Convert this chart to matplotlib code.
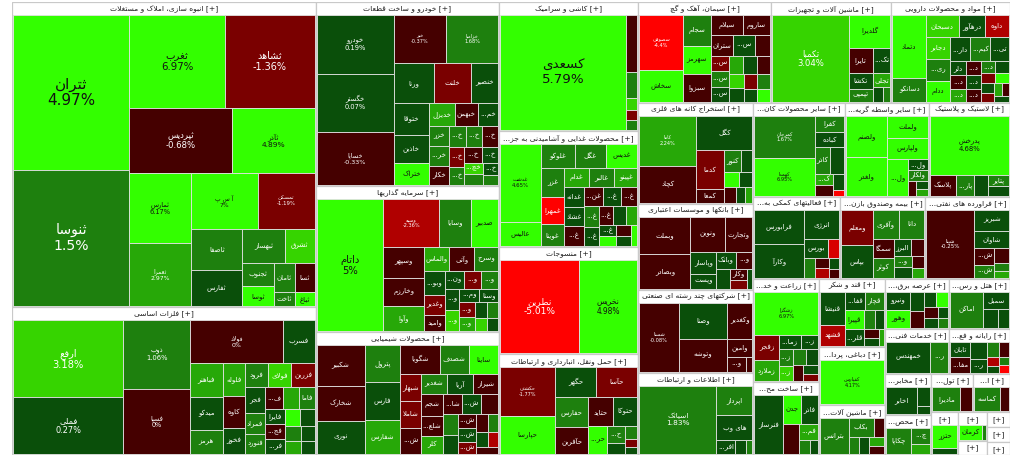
"""
Tehran stock exchange market map: sectors as a squarified treemap,
each sector has a header strip and tiles coloured by daily change.
"""

import numpy as np
import matplotlib
matplotlib.use("Agg")
import matplotlib.pyplot as plt
from matplotlib.patches import Rectangle
from matplotlib.font_manager import FontProperties
from matplotlib.textpath import TextToPath

# ---------------------------------------------------------------- data
sector_names = [
    "انبوه سازی، املاک و مستغلات", "فلزات اساسی", "خودرو و ساخت قطعات",
    "سرمایه گذاریها", "محصولات شیمیایی", "کاشی و سرامیک",
    "محصولات غذایی و آشامیدنی به جز قند و شکر", "منسوجات",
    "حمل ونقل، انبارداری و ارتباطات", "سیمان، آهک و گچ",
    "استخراج کانه های فلزی", "بانکها و موسسات اعتباری",
    "شرکتهای چند رشته ای صنعتی", "اطلاعات و ارتباطات",
    "ماشین آلات و تجهیزات", "مواد و محصولات دارویی",
    "سایر محصولات کانی غیرفلزی", "سایر واسطه گریهای مالی",
    "لاستیک و پلاستیک", "فعالیتهای کمکی به نهادهای مالی واسط",
    "بیمه وصندوق بازنشستگی به جزتامین اجتماعی",
    "فراورده های نفتی، کک و سوخت هسته ای", "زراعت و خدمات وابسته",
    "ساخت محصولات فلزی", "قند و شکر",
    "دباغی، پرداخت چرم و ساخت انواع پاپوش",
    "ماشین آلات و دستگاههای برقی", "عرضه برق، گاز، بخاروآب گرم",
    "هتل و رستوران", "خدمات فنی و مهندسی",
    "رایانه و فعالیتهای وابسته به آن", "مخابرات",
    "تولید محصولات کامپیوتری الکترونیکی و نوری", "استخراج سایر معادن",
    "محصولات کاغذی", "محصولات چوبی", "انتشار، چاپ و تکثیر",
    "استخراج نفت گاز و خدمات جنبی جز اکتشاف", "اوراق تامین مالی",
    "استخراج زغال سنگ", "سایر",
]

# sector market value (relative)
sector_sizes = [92.4, 44.8, 33.7, 26.7, 22.5, 17.9, 16.1, 14.9, 14.0, 13.3,
                11.6, 9.9, 9.5, 9.45, 12.1, 11.9, 8.6, 7.9, 7.6, 7.1,
                6.95, 6.9, 6.8, 4.8, 4.5, 3.77, 3.28, 3.2, 3.05, 2.9,
                2.75, 1.9, 1.6, 1.4, 1.85, 1.15, 0.8, 0.4, 0.35, 0.35, 0.3]

# (symbol, market value, change %)
t_maskan = [("ثتران", 18135, 4.97), ("ثنوسا", 15912, 1.5), ("ثغرب", 8928, 6.97),
            ("ثشاهد", 8370, -1.36), ("ثپردیس", 6695, -0.68), ("ثآذر", 5395, 4.89),
            ("ثمارس", 4392, 6.17), ("ثعمرا", 3900, 2.97), ("آ س پ", 3800, 7.0),
            ("ثمسکن", 3249, -1.19), ("ثاصفا", 2080, 1.2), ("ثفارس", 1872, 0.3),
            ("ثبهساز", 1419, 1.8), ("ثشرق", 990, 3.2), ("ثجنوب", 768, 1.3),
            ("ثوسا", 630, 4.2), ("ثامان", 608, 1.4), ("ثسا", 600, -0.8),
            ("ثاخت", 280, 1.5), ("ثباغ", 270, 4.5)]
t_felezat = [("ارفع", 8208, 3.18), ("فملی", 6048, 0.27), ("ذوب", 4420, 1.06),
             ("فسپا", 4160, 0.0), ("فولاد", 3888, 0.0), ("فسرب", 1296, 0.3),
             ("فباهنر", 1056, 2.4), ("میدکو", 1050, 0.3), ("هرمز", 750, 1.4),
             ("فلوله", 720, 2.6), ("کاوه", 700, -0.5), ("فخوز", 560, 0.4),
             ("فرود", 540, 1.6), ("فولای", 540, 3.2), ("فزرین", 540, -1.6),
             ("فجر", 500, 0.3), ("فمراد", 400, 1.2), ("فنورد", 380, 1.1),
             ("فسازان", 360, -0.6), ("فروی", 340, 2.4), ("فاما", 320, 1.3),
             ("فایرا", 300, 0.4), ("فجهان", 290, -0.5), ("فروس", 280, 0.3),
             ("فکمند", 260, 4.5), ("فالوم", 240, 0.2), ("فسوژ", 220, 1.2),
             ("فنوال", 200, 2.6), ("فاراک", 190, 0.3), ("فافزا", 180, 0.2)]
t_khodro = [("خودرو", 4500, 0.19), ("خگستر", 4450, 0.07), ("خساپا", 4104, -0.33),
            ("خبر", 2491, -0.37), ("خزامیا", 2491, 1.68), ("ورنا", 1600, 0.3),
            ("خلنت", 1482, -1.5), ("خنصیر", 1100, 0.3), ("ختوقا", 1088, 0.3),
            ("خاذین", 986, 0.4), ("ختراک", 782, 4.5), ("خدیزل", 567, 2.6),
            ("خبهمن", 504, -0.5), ("خمحرکه", 441, 0.3), ("خزر", 400, 1.5),
            ("خریخت", 390, 1.4), ("خکار", 380, -0.5), ("خموتور", 370, 1.2),
            ("خفنر", 360, 1.3), ("خاور", 340, -0.6), ("خکمک", 300, -1.5),
            ("خمهر", 280, 0.8), ("خرینگ", 260, -0.5), ("خپویش", 250, 0.3),
            ("خچرخش", 220, 3.0), ("خفولا", 200, 1.0), ("خشرق", 180, 0.3),
            ("خعمرا", 160, 1.5)]
t_sarmaye = [("داتام", 8976, 5.0), ("وسپه", 2688, -2.36), ("وسایا", 1536, 1.2),
             ("صدبیر", 1310, 4.5), ("وسپهر", 1305, -0.5), ("وخارزم", 1131, -0.5),
             ("وآوا", 1053, 2.0), ("والماس", 621, 2.8), ("وآتی", 621, -0.6),
             ("وسرج", 594, 1.5), ("وبوعلی", 513, 0.3), ("وغدیر", 432, -1.2),
             ("وامید", 340, -0.6), ("ونیکی", 340, 0.3), ("وصنعت", 324, -1.5),
             ("وبهمن", 306, 1.5), ("وتوکا", 306, 0.3), ("ورازی", 300, 3.5),
             ("ومعادن", 280, 0.3), ("وسنا", 260, 0.4), ("وکبهمن", 240, -1.2),
             ("وپویا", 220, 2.5), ("وساخت", 200, 0.3), ("وسکاب", 180, 1.5),
             ("وسبحان", 160, 3.5), ("وگستر", 150, 0.4)]
t_shimi = [("شکبیر", 1886, -0.5), ("شخارک", 1564, -0.6), ("نوری", 1518, 0.3),
           ("پترول", 1258, 1.2), ("فارس", 1258, 0.3), ("شفارس", 1156, 2.0),
           ("شگویا", 1066, -0.5), ("شصدف", 806, 1.2), ("ساینا", 780, 4.5),
           ("شبهار", 540, -1.5), ("شاملا", 530, -1.5), ("شپدیس", 520, -0.5),
           ("شغدیر", 520, 1.5), ("آریا", 500, 0.3), ("شیراز", 500, -0.5),
           ("شجم", 450, -0.6), ("شلعاب", 400, -0.5), ("کلر", 380, 2.4),
           ("شاراک", 360, -0.5), ("شپلی", 340, 0.3), ("شاروم", 320, -0.6),
           ("شنوا", 300, 1.2), ("شزنگ", 280, 0.3), ("شدوص", 260, -0.5),
           ("شسینا", 240, 0.3), ("شرنگی", 220, -1.5), ("شوینده", 200, -0.5),
           ("شکف", 180, 1.3), ("شملی", 160, 0.3), ("شتوکا", 150, -2.5),
           ("شپاس", 140, -0.5)]
t_kashi = [("کسعدی", 14720, 5.79), ("کساوه", 627, -0.6), ("کسرام", 286, 1.2),
           ("کمینا", 132, 3.5), ("کخاک", 110, -1.5), ("کپارس", 110, 0.8)]
t_ghaza = [("غدشت", 2926, 4.65), ("عالیس", 912, 4.2), ("غلوکو", 756, 1.3),
           ("غگل", 700, 1.4), ("غدیس", 700, 4.1), ("غزر", 616, 1.3),
           ("غمهرا", 600, -4.5), ("غویتا", 462, 1.8), ("غدام", 440, 2.2),
           ("غالبر", 440, 1.9), ("غپینو", 400, 2.3), ("غدانه", 374, 0.3),
           ("غشاذ", 360, 0.3), ("غصینو", 360, -0.5), ("غنوش", 340, -0.6),
           ("غکورش", 330, 0.4), ("غبشهر", 300, -0.6), ("غپاک", 280, 1.4),
           ("غمینو", 260, 0.3), ("غشان", 240, -0.5), ("غفارس", 220, 0.3),
           ("غنیلی", 200, 2.5), ("غسالم", 180, 0.4), ("غبهار", 160, 4.5),
           ("غشصفا", 150, -0.5), ("غاذر", 140, 0.3), ("غچین", 130, 4.5)]
t_nasaji = [("نطرین", 7440, -5.01), ("نخریس", 5487, 4.98)]
t_haml = [("حکشتی", 2695, -1.77), ("حپارسا", 2145, 4.55), ("حگهر", 1271, 0.3),
          ("حآسا", 1271, -1.2), ("حفارس", 1020, 1.4), ("حآفرین", 918, -0.6),
          ("حتاید", 720, -0.6), ("حتوکا", 720, 0.3), ("حریل", 513, 4.3),
          ("حسینا", 324, 1.3), ("حبندر", 200, 0.3), ("حسیر", 150, 1.2),
          ("حاریا", 100, -1.5), ("حخزر", 90, 0.3)]
t_siman = [("سصوفی", 2376, -4.4), ("سخاش", 1364, 4.3), ("سجام", 840, 1.5),
           ("سهرمز", 784, 4.4), ("سبزوا", 756, -0.6), ("سیلام", 640, -0.6),
           ("ساروم", 540, -0.5), ("ستران", 462, -0.6), ("سشرق", 441, 0.3),
           ("سفارس", 300, -0.6), ("سکرما", 290, -1.5), ("سغرب", 280, 1.3),
           ("سدشت", 270, 0.4), ("سفار", 260, 2.6), ("سخزر", 250, 0.3),
           ("سبجنو", 240, -0.5), ("سکارون", 220, 3.5), ("سمازن", 200, 0.3),
           ("سخوز", 190, -1.5), ("ساذری", 180, 1.4), ("سدور", 170, 0.3),
           ("سقاین", 160, 4.2)]
t_kaneh = [("کاما", 3000, 2.24), ("کچاد", 2220, -0.5), ("کگل", 2035, 0.3),
           ("کدما", 1102, -1.5), ("کمعا", 400, -0.6), ("کنور", 390, 1.4),
           ("کروی", 252, 0.3), ("کسرا", 238, 4.3), ("کزغال", 216, 0.4),
           ("کپرور", 200, -0.5), ("کمنگنز", 150, 0.3), ("کطبس", 120, 2.5)]
t_bank = [("وبملت", 1998, -0.5), ("وبصادر", 1836, -0.5), ("ونوین", 1258, -0.6),
          ("وتجارت", 999, -0.5), ("وپاسار", 588, 0.3), ("وپست", 400, 0.3),
          ("وبانک", 350, 0.4), ("وخاور", 300, -0.6), ("وسینا", 280, 0.3),
          ("وکار", 200, -0.5), ("وشهر", 150, -1.5), ("وحکمت", 120, 0.3)]
t_chand = [("شستا", 2760, -0.08), ("وصنا", 1764, 0.3), ("وتوشه", 1617, -0.5),
           ("وکغدیر", 936, -0.5), ("وامین", 468, -0.6), ("وپخش", 285, -0.5),
           ("وتوس", 105, -0.6)]
t_ertebat = [("اسیاتک", 5508, 1.83), ("اپرداز", 1088, 1.4), ("های وب", 952, 0.3),
             ("افرانت", 272, 0.3), ("اعتلا", 150, 0.4), ("انتشار", 100, 1.2)]
t_mashin = [("تکمبا", 6630, 3.04), ("گلدیرا", 1344, 4.2), ("تایرا", 600, -0.6),
            ("تکنول", 450, 0.3), ("تکشا", 384, 0.3), ("تپمپی", 288, 1.5),
            ("تجلی", 250, 2.5), ("تمحرکه", 150, 0.3), ("تفیرو", 104, 1.3)]
t_daru = [("دتماد", 1984, 4.5), ("دسانکو", 736, 1.5), ("دسبحان", 680, 3.2),
          ("درهآور", 540, 0.3), ("داوه", 500, -2.5), ("دجابر", 484, 3.3),
          ("ریشمک", 484, 1.3), ("ددام", 462, 4.4), ("داروپخش", 462, 0.3),
          ("کیمیدارو", 462, 1.5), ("تیپیکو", 420, 0.3), ("دلر", 224, 0.3),
          ("دفارا", 210, -0.6), ("دکپسول", 200, 2.5), ("دزهراوی", 190, -0.5),
          ("دشیمی", 180, 0.3), ("دعبید", 170, -0.6), ("دلقما", 160, 1.4),
          ("دکیمی", 150, 0.3), ("دپارس", 140, -1.5), ("دتولید", 130, 4.5),
          ("دابور", 120, 0.3), ("دسینا", 110, -1.5), ("دامین", 100, 2.5),
          ("دالبر", 90, -0.6), ("داسوه", 80, 0.3)]
t_kani = [("کمرجان", 2646, 1.67), ("کهمدا", 2394, 6.95), ("کفرا", 510, 1.5),
          ("کباده", 450, 0.3), ("کاذر", 425, 1.4), ("کلوند", 375, 0.3),
          ("کساپا", 221, 2.0), ("کرازی", 204, -0.6), ("کگاز", 180, 0.3),
          ("کصدف", 60, -4.5)]
t_vasete = [("ولصنم", 1764, 4.4), ("ولغدر", 1638, 4.3), ("ولملت", 920, 4.6),
            ("ولپارس", 880, 4.5), ("ولساپا", 792, 4.2), ("ولتجار", 234, 0.3),
            ("ولکار", 234, 1.5), ("ولبهمن", 120, -0.6), ("ولشرق", 100, 0.3),
            ("ولانا", 80, 2.0)]
t_lastik = [("پدرخش", 4860, 4.68), ("پلاسک", 560, -0.5), ("پارس", 400, 1.5),
            ("پکرمان", 300, 0.3), ("پتایر", 250, 1.4), ("پسهند", 200, 0.3)]
t_komaki = [("فرابورس", 1850, 0.3), ("وکارآ", 1800, 0.3), ("انرژی", 1122, 0.4),
            ("بورس", 510, 0.3), ("اطلس", 228, -3.5), ("آگاه", 228, 1.4),
            ("کارا", 150, -0.6), ("وثوق", 140, -2.5), ("سپید", 120, 0.3),
            ("مفید", 100, -0.6)]
t_bime = [("ومعلم", 1080, -1.2), ("بپاس", 1000, 0.3), ("وآفری", 756, 1.6),
          ("دانا", 729, 1.5), ("سمگا", 400, -0.6), ("کوثر", 400, 1.4),
          ("البرز", 300, 0.3), ("آسیا", 225, -0.6), ("وتعاون", 200, 1.5),
          ("ملت", 180, 0.3), ("حافظ", 150, -0.5), ("اتکای", 120, 2.2)]
t_naft = [("شپنا", 3283, -0.25), ("شبریز", 735, 0.3), ("شاوان", 595, 0.3),
          ("شبندر", 340, -0.6), ("شتران", 255, 1.4), ("شنفت", 216, -0.6),
          ("شرانل", 120, 1.4), ("شسپا", 100, 2.5)]
t_zeraat = [("زشگزا", 2970, 6.97), ("زفجر", 650, -1.5), ("زملارد", 550, 2.3),
            ("زماهان", 336, 0.3), ("زکوثر", 273, 0.3), ("زپارس", 252, 1.5),
            ("زگلدشت", 230, 3.5), ("زبینا", 220, 1.4), ("زقیام", 200, 0.3),
            ("زشریف", 180, -0.6), ("زمگسا", 150, 0.3), ("زدشت", 120, -1.2)]
t_felezi = [("فنرساز", 1596, 0.3), ("جدن", 500, 4.3), ("فاذر", 480, 0.3),
            ("فجام", 460, -0.6), ("فمیلی", 300, 2.0), ("فتوسا", 150, 1.4),
            ("فپنتا", 120, 0.3)]
t_ghand = [("قنیشا", 850, 0.3), ("قشهد", 550, -2.5), ("قفارس", 400, 0.3),
           ("قچار", 378, 1.5), ("قپیرا", 378, 4.3), ("قلرست", 361, 0.3),
           ("قثابت", 200, 1.4), ("قاسم", 180, 0.3), ("قمرو", 150, -0.6),
           ("قشیر", 120, 0.3), ("قزوین", 100, 2.5)]
t_charm = [("کفپارس", 2925, 4.17)]
t_barghi = [("بترانس", 1036, 1.4), ("بکاب", 500, 1.6), ("بموتو", 200, -0.6),
            ("بنیرو", 180, 1.4), ("بالبر", 160, 0.3), ("بایکا", 140, 2.5),
            ("بشهاب", 120, -0.6)]
t_bargh = [("ونیرو", 468, 0.3), ("وهور", 468, 4.5), ("بمپنا", 300, 0.3),
           ("بزاگرس", 250, -0.6), ("بفجر", 200, 0.3), ("تابا", 200, 4.5),
           ("بپیوند", 180, -0.6), ("بجهرم", 150, 0.3), ("بکهنوج", 120, 0.3),
           ("بگیلان", 100, 1.5)]
t_hotel = [("اماکن", 1155, 1.4), ("سمبل", 432, 0.3), ("گردش", 250, 0.3),
           ("رفاه", 200, 0.3)]
t_fanni = [("خمهندس", 1426, 0.3), ("رکیش", 589, 1.5)]
t_rayane = [("تابان", 330, 0.3), ("مفاخر", 330, -0.6), ("سیستم", 300, 0.3),
            ("رتاپ", 250, 0.3), ("مرقام", 200, 1.5), ("فن آوا", 150, -0.6),
            ("دیدار", 120, -2.5), ("پرداخت", 100, 0.3), ("انفورماتیک", 90, 1.4),
            ("سپ", 80, -4.5)]
t_mokhaberat = [("اخابر", 825, 0.3), ("همراه", 250, 0.3), ("رتل", 100, 0.3)]
t_computer = [("مادیرا", 750, 1.5), ("لپارس", 325, -0.6)]
t_maaden = [("کماسه", 675, 1.5), ("کبافق", 250, -0.6)]
t_kaghaz = [("چکاپا", 625, 1.4), ("چکارن", 300, 1.5), ("چفیبر", 200, 2.0)]
t_choob = [("حتزر", 600, 4.5), ("چوکا", 150, 0.3)]
t_chap = [("کرمان", 700, 4.5), ("چاپ", 100, 1.4)]
t_naftgaz = [("حفاری", 120, -1.5), ("اوج", 100, 0.3), ("نفت", 80, 0.3)]
t_oragh = [("صکوک", 150, 1.5)]
t_zoghal = [("کزغال", 120, 2.0)]
t_sayer = [("سایر", 100, 0.3)]

sector_tiles = [t_maskan, t_felezat, t_khodro, t_sarmaye, t_shimi, t_kashi,
                t_ghaza, t_nasaji, t_haml, t_siman, t_kaneh, t_bank, t_chand,
                t_ertebat, t_mashin, t_daru, t_kani, t_vasete, t_lastik,
                t_komaki, t_bime, t_naft, t_zeraat, t_felezi, t_ghand, t_charm,
                t_barghi, t_bargh, t_hotel, t_fanni, t_rayane, t_mokhaberat,
                t_computer, t_maaden, t_kaghaz, t_choob, t_chap, t_naftgaz,
                t_oragh, t_zoghal, t_sayer]

# ------------------------------------------------------ arabic shaping
FORMS = {
    'ء': (0xFE80,), 'آ': (0xFE81, 0xFE82), 'أ': (0xFE83, 0xFE84),
    'ؤ': (0xFE85, 0xFE86), 'إ': (0xFE87, 0xFE88),
    'ئ': (0xFE89, 0xFE8A, 0xFE8B, 0xFE8C), 'ا': (0xFE8D, 0xFE8E),
    'ب': (0xFE8F, 0xFE90, 0xFE91, 0xFE92), 'ة': (0xFE93, 0xFE94),
    'ت': (0xFE95, 0xFE96, 0xFE97, 0xFE98), 'ث': (0xFE99, 0xFE9A, 0xFE9B, 0xFE9C),
    'ج': (0xFE9D, 0xFE9E, 0xFE9F, 0xFEA0), 'ح': (0xFEA1, 0xFEA2, 0xFEA3, 0xFEA4),
    'خ': (0xFEA5, 0xFEA6, 0xFEA7, 0xFEA8), 'د': (0xFEA9, 0xFEAA),
    'ذ': (0xFEAB, 0xFEAC), 'ر': (0xFEAD, 0xFEAE), 'ز': (0xFEAF, 0xFEB0),
    'س': (0xFEB1, 0xFEB2, 0xFEB3, 0xFEB4), 'ش': (0xFEB5, 0xFEB6, 0xFEB7, 0xFEB8),
    'ص': (0xFEB9, 0xFEBA, 0xFEBB, 0xFEBC), 'ض': (0xFEBD, 0xFEBE, 0xFEBF, 0xFEC0),
    'ط': (0xFEC1, 0xFEC2, 0xFEC3, 0xFEC4), 'ظ': (0xFEC5, 0xFEC6, 0xFEC7, 0xFEC8),
    'ع': (0xFEC9, 0xFECA, 0xFECB, 0xFECC), 'غ': (0xFECD, 0xFECE, 0xFECF, 0xFED0),
    'ف': (0xFED1, 0xFED2, 0xFED3, 0xFED4), 'ق': (0xFED5, 0xFED6, 0xFED7, 0xFED8),
    'ك': (0xFED9, 0xFEDA, 0xFEDB, 0xFEDC), 'ل': (0xFEDD, 0xFEDE, 0xFEDF, 0xFEE0),
    'م': (0xFEE1, 0xFEE2, 0xFEE3, 0xFEE4), 'ن': (0xFEE5, 0xFEE6, 0xFEE7, 0xFEE8),
    'ه': (0xFEE9, 0xFEEA, 0xFEEB, 0xFEEC), 'و': (0xFEED, 0xFEEE),
    'ى': (0xFEEF, 0xFEF0), 'ي': (0xFEF1, 0xFEF2, 0xFEF3, 0xFEF4),
    'پ': (0xFB56, 0xFB57, 0xFB58, 0xFB59), 'چ': (0xFB7A, 0xFB7B, 0xFB7C, 0xFB7D),
    'ژ': (0xFB8A, 0xFB8B), 'ک': (0xFB8E, 0xFB8F, 0xFB90, 0xFB91),
    'گ': (0xFB92, 0xFB93, 0xFB94, 0xFB95), 'ی': (0xFBFC, 0xFBFD, 0xFBFE, 0xFBFF),
}
LAM_ALEF = {'ا': (0xFEFB, 0xFEFC), 'آ': (0xFEF5, 0xFEF6),
            'أ': (0xFEF7, 0xFEF8), 'إ': (0xFEF9, 0xFEFA)}


def shape(text):
    out = []
    i, n = 0, len(text)
    while i < n:
        c = text[i]
        if c not in FORMS:
            out.append(c)
            i += 1
            continue
        prev = text[i - 1] if i > 0 else ''
        prev_joins = prev in FORMS and len(FORMS[prev]) == 4
        nxt = text[i + 1] if i + 1 < n else ''
        if c == 'ل' and nxt in LAM_ALEF:
            out.append(chr(LAM_ALEF[nxt][1 if prev_joins else 0]))
            i += 2
            continue
        f = FORMS[c]
        next_ok = len(f) == 4 and nxt in FORMS and nxt != 'ء'
        if len(f) == 1:
            out.append(chr(f[0]))
        elif prev_joins and next_ok:
            out.append(chr(f[3]))
        elif prev_joins:
            out.append(chr(f[1]))
        elif next_ok:
            out.append(chr(f[2]))
        else:
            out.append(chr(f[0]))
        i += 1
    return ''.join(out)


def rtl(text):
    return shape(text)[::-1]


# ------------------------------------------------------------ helpers
FONT = 'DejaVu Sans'
DPI = 100
_ttp = TextToPath()


def text_px(s, fs):
    w, h, d = _ttp.get_text_width_height_descent(s, FontProperties(family=FONT, size=fs), ismath=False)
    return w * DPI / 72.0


def fit_name(name, fs, maxw, suffix=''):
    full = rtl(name) + suffix
    if text_px(full, fs) <= maxw:
        return full
    for k in range(len(name) - 1, 0, -1):
        cand = '...' + rtl(name[:k].rstrip()) + suffix
        if text_px(cand, fs) <= maxw:
            return cand
    return None


def worst_ratio(row, side):
    thick = sum(row) / side
    return max(max(thick / (a / thick), (a / thick) / thick) for a in row)


def squarify(values, x, y, w, h):
    total = float(sum(values))
    areas = [v * w * h / total for v in values]
    rects = []
    i, n = 0, len(areas)
    while i < n:
        vertical = w >= h
        side = max(h if vertical else w, 1e-9)
        j = i + 1
        best = worst_ratio(areas[i:j], side)
        while j < n:
            r = worst_ratio(areas[i:j + 1], side)
            if r > best:
                break
            best = r
            j += 1
        row = areas[i:j]
        thick = sum(row) / side
        pos = y if vertical else x
        for a in row:
            length = a / thick
            rects.append((x, pos, thick, length) if vertical else (pos, y, length, thick))
            pos += length
        if vertical:
            x += thick
            w -= thick
        else:
            y += thick
            h -= thick
        i = j
    return rects


def tile_color(c):
    if c <= 0:
        if c > -1:
            return '#450000'
        if c > -2:
            return '#7a0000'
        if c > -3:
            return '#b00000'
        if c > -4:
            return '#d80000'
        return '#ff0000'
    if c < 0.6:
        return '#0a4f0a'
    if c < 2:
        return '#1e800e'
    if c < 3:
        return '#27a808'
    if c < 4:
        return '#36d400'
    return '#33ff00'


def fmt_pct(c):
    return f"{c:g}%"


# ------------------------------------------------------------- figure
W, H = 998, 453
HEAD = 13
HEAD_FS = 5.4

fig = plt.figure(figsize=(10.24, 4.61), dpi=DPI)
ax = fig.add_axes([12 / 1024, 6 / 461, W / 1024, H / 461])
ax.set_xlim(0, W)
ax.set_ylim(H, 0)
ax.axis('off')

order = sorted(range(len(sector_sizes)), key=lambda k: -sector_sizes[k])
sector_rects = squarify([sector_sizes[k] for k in order], 0, 0, W, H)

for k, (sx, sy, sw, sh) in zip(order, sector_rects):
    ax.add_patch(Rectangle((sx, sy), sw, sh, facecolor='white',
                           edgecolor='#c9c9c9', lw=0.9))
    # header
    head = fit_name(sector_names[k], HEAD_FS, sw - 6, suffix=' [+]')
    if head is None:
        head = '[+]' if text_px('[+]', HEAD_FS) <= sw - 3 else '[...'
    ax.text(sx + sw / 2, sy + HEAD / 2 + 0.5, head, ha='center', va='center',
            fontsize=HEAD_FS, color='#1a1a1a', family=FONT)

    cx, cy, cw, ch = sx + 1, sy + HEAD, sw - 2, sh - HEAD - 1
    if ch < 2:
        continue
    tiles = sorted(sector_tiles[k], key=lambda t: -t[1])
    rects = squarify([t[1] for t in tiles], cx, cy, cw, ch)
    for (name, val, chg), (tx, ty, tw, th) in zip(tiles, rects):
        ax.add_patch(Rectangle((tx, ty), tw, th, facecolor=tile_color(chg),
                               edgecolor='#e2e2e2', lw=0.6))
        tcol = '#111111' if chg >= 4 else 'white'
        area = tw * th
        if area >= 2300 and tw >= 30 and th >= 24:
            fs = min(11.0, max(3.6, 0.09 * np.sqrt(area) - 1.2))
            while fs > 3.6 and max(text_px(rtl(name), fs), text_px(fmt_pct(chg), fs)) > tw - 6:
                fs -= 0.3
            nm = fit_name(name, fs, tw - 4) or ''
            ax.text(tx + tw / 2, ty + th / 2, nm + "\n" + fmt_pct(chg),
                    ha='center', va='center', fontsize=fs, color=tcol,
                    family=FONT, linespacing=1.15)
        elif tw >= 14 and th >= 11:
            nm = fit_name(name, 5.0, tw - 3)
            if nm:
                ax.text(tx + tw / 2, ty + th / 2, nm, ha='center', va='center',
                        fontsize=5.0, color=tcol, family=FONT)

fig.savefig("out.png", dpi=DPI, facecolor='white')
